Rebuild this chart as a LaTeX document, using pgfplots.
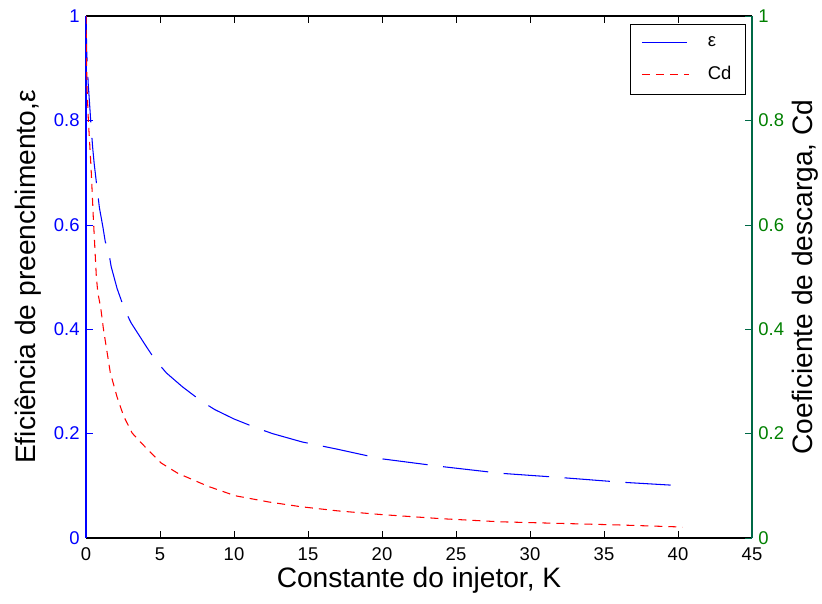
\documentclass[border=0pt]{standalone}
\usepackage{fontspec}
\setmainfont{Liberation Sans}
\usepackage{pgfplots}
\pgfplotsset{compat=1.18}
\definecolor{lblgreen}{RGB}{0,128,0}
\definecolor{spinegreen}{RGB}{0,105,70}

\begin{document}
\begin{tikzpicture}
\pgfplotsset{
  every axis/.append style={
    scale only axis, width=13.32cm, height=10.44cm,
    xmin=0, xmax=45, ymin=0, ymax=1,
    tick align=inside, major tick length=0.14cm,
    /pgf/number format/assume math mode=true,
    tick label style={font=\fontsize{10.5}{12}\selectfont},
    label style={font=\fontsize{16}{19}\selectfont},
    ytick={0,0.2,0.4,0.6,0.8,1},
    yticklabels={0,0.2,0.4,0.6,0.8,1},
    line width=0.6pt,
  },
}
\begin{axis}[
  name=ax,
  separate axis lines,
  axis x line*=box, axis y line*=left,
  x axis line style={black}, y axis line style={blue},
  xtick={0,5,...,45}, xtick pos=both,
  xtick style={black}, ytick style={blue},
  yticklabel style={blue},
  xticklabel style={yshift=-2pt},
  xlabel={Constante do injetor, K},
  ylabel={Eficiência de preenchimento,ε},
  xlabel style={at={(axis description cs:0.5,-0.0805)}, anchor=center},
  ylabel style={at={(axis description cs:-0.087,0.5)}, anchor=center},
  legend style={at={(0.991,0.985)}, anchor=north east, draw=black,
    fill=white, font=\fontsize{10.5}{12}\selectfont, row sep=0.2cm,
    column sep=0.3cm, inner xsep=6pt, inner ysep=5pt, cells={anchor=west}},
  legend image code/.code={\draw[#1] (0cm,0cm) -- (0.94cm,0cm);},
]
\addplot[blue, line width=0.6pt, dash pattern=on 0.91cm off 0.31cm] coordinates {
(0,1.0) (0.05,0.93) (0.15,0.87) (0.27,0.82) (0.35,0.785) (0.46,0.745)
(0.55,0.718) (0.78,0.662) (0.91,0.632) (1.14,0.596) (1.3,0.568)
(1.55,0.545) (1.7,0.52) (2.1,0.478) (2.6,0.438) (3.05,0.412) (4.0,0.37)
(4.65,0.342) (5.44,0.316) (6.5,0.29) (7.8,0.262) (8.7,0.246) (10,0.228)
(11.5,0.211) (12.6,0.2) (14.6,0.184) (17,0.17) (19.9,0.152) (24,0.137)
(28,0.124) (32,0.116) (36.1,0.107) (40.3,0.1)
};
\addlegendentry{ε}
\addplot[red, line width=0.6pt, dash pattern=on 0.16cm off 0.12cm] coordinates {
(0,1.0) (0.03,0.93) (0.06,0.87) (0.16,0.80) (0.27,0.745) (0.34,0.71)
(0.43,0.655) (0.5,0.61) (0.6,0.555) (0.7,0.5) (0.8,0.47) (1.0,0.44)
(1.18,0.40) (1.64,0.317) (2.1,0.27) (2.55,0.233) (3.12,0.201) (3.7,0.183)
(5.06,0.144) (6.2,0.124) (8.25,0.099) (10.07,0.081) (12.35,0.069)
(14.5,0.06) (17,0.052) (19.9,0.045) (24,0.037) (28,0.031) (32,0.028)
(36,0.025) (40.3,0.021)
};
\addlegendentry{Cd}
\end{axis}
\begin{axis}[
  axis x line=none, axis y line*=right,
  y axis line style={spinegreen}, ytick style={spinegreen},
  yticklabel style={lblgreen},
  ylabel={Coeficiente de descarga, Cd},
  ylabel style={at={(axis description cs:1.08,0.5)}, anchor=center, rotate=0},
]
\addplot[draw=none] coordinates {(0,0)};
\end{axis}
\pgfresetboundingbox
\path[use as bounding box] ([xshift=-1.72cm,yshift=-1.32cm]ax.south west)
  rectangle ([xshift=1.40cm,yshift=0.32cm]ax.north east);
\end{tikzpicture}
\end{document}
